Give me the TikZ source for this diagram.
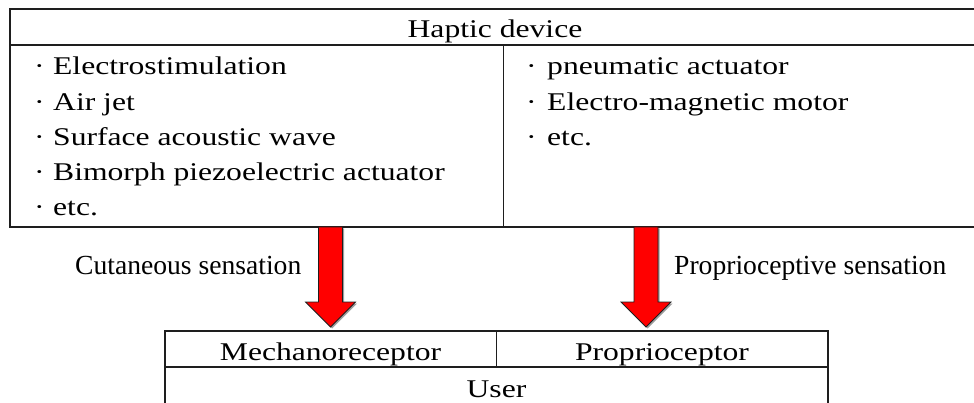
\documentclass[tikz,border=0pt]{standalone}
\usepackage{fontspec}
\setmainfont{Liberation Serif}
\newfontfamily\boxfont[FakeStretch=1.24]{Liberation Serif}
\usetikzlibrary{calc,positioning,shadows}
\definecolor{arrowred}{RGB}{255,0,0}
\definecolor{rulegray}{RGB}{30,30,30}
\newcommand{\blockarrow}[2]{%
  \draw[bigarrow] let \p1=(#1), \p2=(#2) in
    (\x2-12pt,\y1) -- (\x2-12pt,\y2+25pt) -- (\x2-25pt,\y2+25pt) -- (\x2,\y2)
    -- (\x2+25pt,\y2+25pt) -- (\x2+12pt,\y2+25pt) -- (\x2+12pt,\y1) -- cycle;%
}
\newcommand{\listdot}[1]{\makebox[#1][l]{·}}

\begin{document}
\begin{tikzpicture}[x=1pt,y=1pt,
  cell/.style={draw=rulegray,line width=1pt,inner sep=0pt,outer sep=0pt,anchor=north west},
  frame/.style={draw=rulegray,line width=2pt},
  boxtext/.style={font=\fontsize{25.5}{30}\boxfont,inner sep=0pt,anchor=base},
  listitem/.style={boxtext,anchor=base west},
  sense/.style={font=\fontsize{27.6}{33}\selectfont,inner sep=0pt},
  bigarrow/.style={fill=arrowred,draw=rulegray,line width=0.8pt,
    drop shadow={shadow xshift=1.5pt,shadow yshift=-1.5pt,fill=black!55,opacity=0.7}}]
  \clip (0,0) rectangle (974,-403);
  % haptic device table
  \node[cell,minimum width=966pt,minimum height=36pt] (haptic) at (10,-9) {};
  \node[cell,minimum width=493pt,minimum height=182pt] (skin) at (haptic.south west) {};
  \node[cell,minimum width=473pt,minimum height=182pt] (kin) at (skin.north east) {};
  % user table
  \node[cell,minimum width=331pt,minimum height=36pt] (mech) at (165,-331) {};
  \node[cell,minimum width=332pt,minimum height=36pt] (prop) at (mech.north east) {};
  \node[cell,minimum width=663pt,minimum height=60pt] (user) at (mech.south west) {};
  \draw[frame] (haptic.north west) rectangle (kin.south east);
  \draw[frame] (skin.north west) -- (kin.north east);
  \draw[frame] (mech.north west) rectangle (user.south east);
  \draw[frame] (user.north west) -- (user.north east);
  % texts
  \node[boxtext] (hapticttl) at ([xshift=2pt,yshift=-29pt]haptic.north) {Haptic device};
  \foreach \t [count=\i] in {Electrostimulation,Air jet,Surface acoustic wave,Bimorph piezoelectric actuator,etc.}
    \node[listitem] (skin\i) at ([xshift=24pt,yshift={-30pt-35.2pt*(\i-1)}]skin.north west) {\listdot{19pt}\t};
  \foreach \t [count=\i] in {pneumatic actuator,Electro-magnetic motor,etc.}
    \node[listitem] (kin\i) at ([xshift=23pt,yshift={-30pt-35.2pt*(\i-1)}]kin.north west) {\listdot{21pt}\t};
  \node[boxtext] (mechlbl) at ([yshift=-29pt]mech.north) {Mechanoreceptor};
  \node[boxtext] (proplbl) at ([yshift=-29pt]prop.north) {Proprioceptor};
  \node[boxtext] (userlbl) at ([yshift=-30pt]user.north) {User};
  % sensation arrows
  \coordinate (tipL) at ([yshift=4pt]mech.north);
  \coordinate (tipR) at ([xshift=-16pt,yshift=4pt]prop.north);
  \blockarrow{tipL |- skin.south}{tipL}
  \blockarrow{tipR |- kin.south}{tipR}
  \node[sense,anchor=base east] (cutlbl) at ([xshift=-29pt,yshift=52pt]tipL) {Cutaneous sensation};
  \node[sense,anchor=base west] (proprlbl) at ([xshift=28pt,yshift=52pt]tipR) {Proprioceptive sensation};
\end{tikzpicture}
\end{document}
